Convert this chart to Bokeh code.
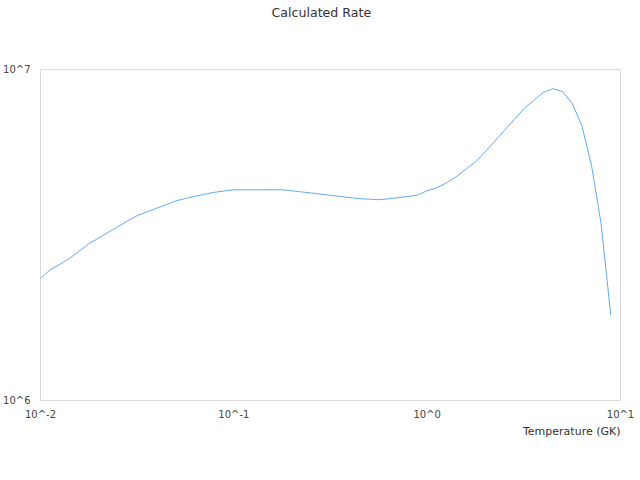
from bokeh.plotting import figure
from bokeh.models import FixedTicker, CustomJSTickFormatter, Title, Range1d
from bokeh.embed import file_html
from bokeh.resources import INLINE

# Temperature grid (GK) and calculated rate
temperature = [0.01, 0.0112, 0.0126, 0.0141, 0.0158, 0.0178, 0.02, 0.0224, 0.0251, 0.0282,
               0.0316, 0.0355, 0.0398, 0.0447, 0.0501, 0.0562, 0.0631, 0.0708, 0.0794, 0.0891,
               0.1, 0.112, 0.126, 0.141, 0.158, 0.178, 0.2, 0.224, 0.251, 0.282,
               0.316, 0.355, 0.398, 0.447, 0.501, 0.562, 0.631, 0.708, 0.794, 0.891,
               1.0, 1.12, 1.26, 1.41, 1.58, 1.78, 2.0, 2.24, 2.51, 2.82,
               3.16, 3.55, 3.98, 4.47, 5.01, 5.62, 6.31, 7.08, 7.94, 8.91]
rate = [2.337e6, 2.480e6, 2.580e6, 2.685e6, 2.823e6, 2.977e6, 3.097e6, 3.220e6, 3.350e6, 3.485e6,
        3.616e6, 3.711e6, 3.808e6, 3.906e6, 4.009e6, 4.076e6, 4.139e6, 4.200e6, 4.256e6, 4.294e6,
        4.331e6, 4.331e6, 4.331e6, 4.331e6, 4.331e6, 4.331e6, 4.300e6, 4.268e6, 4.235e6, 4.200e6,
        4.168e6, 4.136e6, 4.102e6, 4.071e6, 4.057e6, 4.042e6, 4.068e6, 4.102e6, 4.136e6, 4.174e6,
        4.303e6, 4.388e6, 4.547e6, 4.737e6, 4.991e6, 5.261e6, 5.645e6, 6.076e6, 6.546e6, 7.058e6,
        7.608e6, 8.050e6, 8.521e6, 8.744e6, 8.581e6, 7.910e6, 6.772e6, 5.129e6, 3.418e6, 1.806e6]

x_ticks = [0.01, 0.1, 1, 10]
x_tick_labels = ["10^-2", "10^-1", "10^0", "10^1"]
y_ticks = [1e6, 1e7]
y_tick_labels = ["10^6", "10^7"]

FONT = "DejaVu Sans"

p = figure(width=640, height=480, x_axis_type="log", y_axis_type="log",
           x_range=Range1d(0.01, 10), y_range=Range1d(1e6, 1e7),
           output_backend="svg", toolbar_location=None, title=None,
           min_border_left=40, min_border_right=20, min_border_top=5, min_border_bottom=80)

p.line(temperature, rate, line_color="#64a8ee", line_width=1)

# spacer between the title and the frame (added first = nearest the frame)
p.add_layout(Title(text=" ", text_font=FONT, text_font_size="12.6px", standoff=26), "above")
p.add_layout(Title(text="Calculated Rate", align="left", offset=231, vertical_align="top",
                   text_font=FONT, text_font_size="12.6px", text_font_style="normal",
                   text_color="#333333", standoff=9), "above")

p.add_layout(Title(text="Temperature (GK)", align="right", text_font=FONT,
                   text_font_size="11px", text_font_style="normal",
                   text_color="#333333", standoff=1), "below")

p.xaxis.ticker = FixedTicker(ticks=x_ticks)
p.yaxis.ticker = FixedTicker(ticks=y_ticks)
code = "const i = values.indexOf(tick); return i >= 0 ? labels[i] : '';"
p.xaxis.formatter = CustomJSTickFormatter(args=dict(values=x_ticks, labels=x_tick_labels), code=code)
p.yaxis.formatter = CustomJSTickFormatter(args=dict(values=y_ticks, labels=y_tick_labels), code=code)

for ax in (p.xaxis, p.yaxis):
    ax.axis_line_color = None
    ax.major_tick_line_color = None
    ax.minor_tick_line_color = None
    ax.major_tick_out = 0
    ax.major_tick_in = 0
    ax.minor_tick_out = 0
    ax.minor_tick_in = 0
    ax.major_label_text_font = FONT
    ax.major_label_text_font_size = "10px"
    ax.major_label_text_color = "#444444"
p.xaxis.major_label_standoff = 8
p.yaxis.major_label_standoff = 10

p.grid.visible = False
p.outline_line_color = "#d9d9d9"
p.outline_line_width = 1
p.background_fill_color = "white"
p.border_fill_color = "white"

open("out.html", "w").write(file_html(p, INLINE))
